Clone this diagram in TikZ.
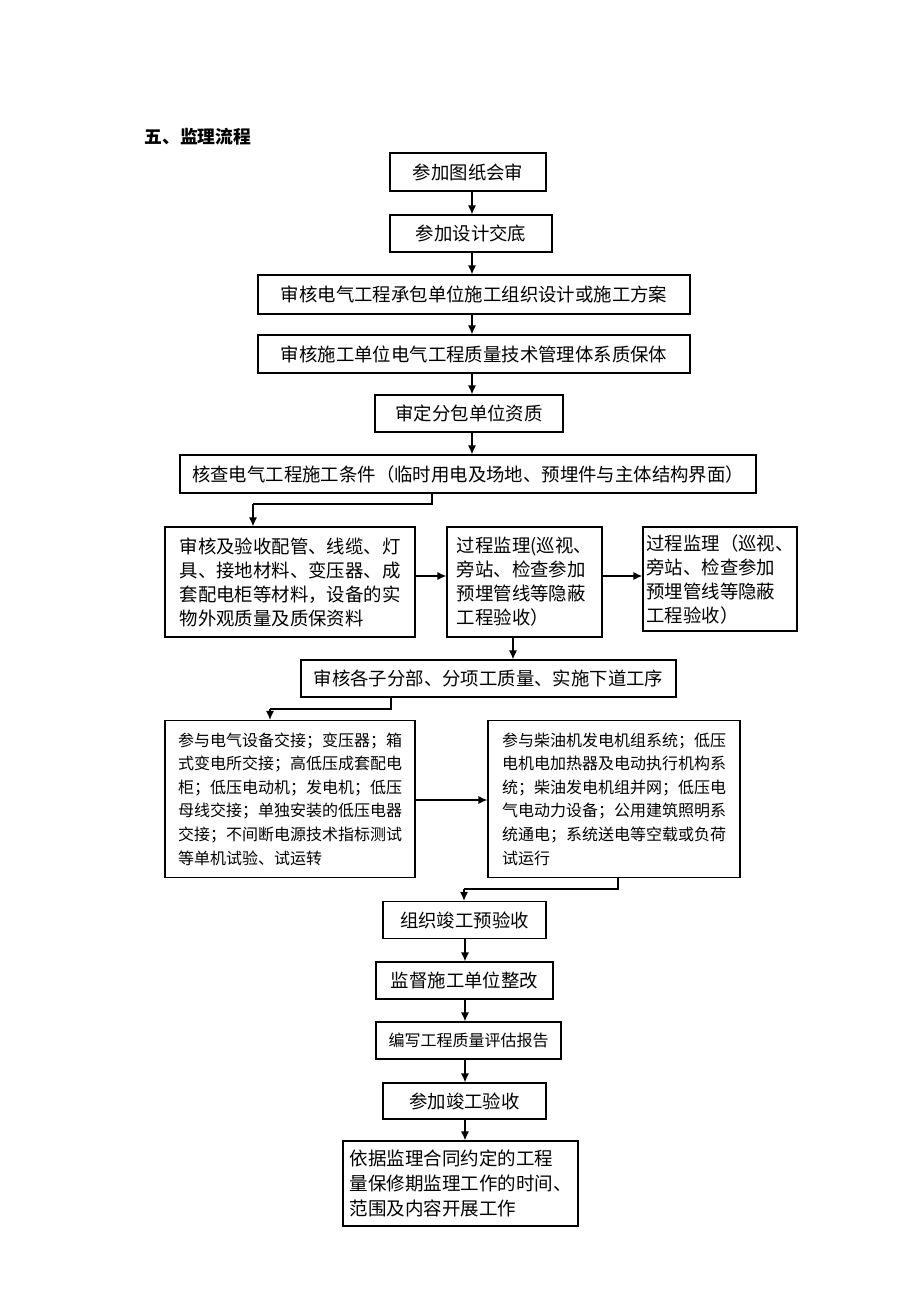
\documentclass[tikz,border=0pt]{standalone}
\usepackage{fontspec}
\setmainfont{Noto Sans CJK SC}
\usetikzlibrary{arrows.meta}
\begin{document}
\begin{tikzpicture}[x=1pt,y=-1pt,
  box/.style={draw,line width=1.2pt,inner sep=0pt,align=left,
     font=\fontsize{18.4}{24}\selectfont},
  sbox/.style={box,font=\fontsize{16}{23.6}\selectfont},
  arr/.style={line width=1.2pt,-{Latex[length=9pt,width=8pt]}},
  ln/.style={line width=1.2pt}]
\useasboundingbox (0,0) rectangle (920,1302);
\node[anchor=west,font=\fontsize{17.8}{20}\selectfont\bfseries] (title) at (141,137) {五、监理流程};
\node[box,minimum width=156,minimum height=38] (n1) at (468,172) {参加图纸会审};
\node[box,minimum width=162,minimum height=37] (n2) at (471,233.5) {参加设计交底};
\node[box,minimum width=432,minimum height=39] (n3) at (474,294.5) {审核电气工程承包单位施工组织设计或施工方案};
\node[box,minimum width=432,minimum height=38] (n4) at (474,354) {审核施工单位电气工程质量技术管理体系质保体};
\node[box,minimum width=188,minimum height=37] (n5) at (469,413.5) {审定分包单位资质};
\node[box,minimum width=576,minimum height=38] (n6) at (468,474) {核查电气工程施工条件（临时用电及场地、预埋件与主体结构界面）};
\node[box,minimum width=250,minimum height=110] (n7) at (290,582) {审核及验收配管、线缆、灯\\具、接地材料、变压器、成\\套配电柜等材料，设备的实\\物外观质量及质保资料};
\node[box,minimum width=155,minimum height=110] (n8) at (524.5,582) {过程监理(巡视、\\旁站、检查参加\\预埋管线等隐蔽\\工程验收）};
\node[box,minimum width=154,minimum height=104] (n9) at (720,579) {过程监理（巡视、\\旁站、检查参加\\预埋管线等隐蔽\\工程验收）};
\node[box,minimum width=375,minimum height=37] (n10) at (488.5,678.5) {审核各子分部、分项工质量、实施下道工序};
\node[sbox,minimum width=250,minimum height=157] (n11) at (290,799) {参与电气设备交接；变压器；箱\\式变电所交接；高低压成套配电\\柜；低压电动机；发电机；低压\\母线交接；单独安装的低压电器\\交接；不间断电源技术指标测试\\等单机试验、试运转};
\node[sbox,minimum width=252,minimum height=157] (n12) at (614,799) {参与柴油机发电机组系统；低压\\电机电加热器及电动执行机构系\\统；柴油发电机组并网；低压电\\气电动力设备；公用建筑照明系\\统通电；系统送电等空载或负荷\\试运行};
\node[box,minimum width=163,minimum height=37] (n13) at (464.5,920) {组织竣工预验收};
\node[box,minimum width=177,minimum height=37] (n14) at (464.5,980.5) {监督施工单位整改};
\node[sbox,minimum width=185,minimum height=37] (n15) at (468.5,1040.5) {编写工程质量评估报告};
\node[box,minimum width=163,minimum height=36] (n16) at (464.5,1101) {参加竣工验收};
\node[box,minimum width=235,minimum height=85,font=\fontsize{18.5}{25}\selectfont] (n17) at (460.5,1183.5) {依据监理合同约定的工程\\量保修期监理工作的时间、\\范围及内容开展工作};
% axes
\coordinate (ax1) at (472,0);
\coordinate (ax2) at (465,0);
\draw[arr] (n1.south -| ax1) -- (n2.north -| ax1);
\draw[arr] (n2.south -| ax1) -- (n3.north -| ax1);
\draw[arr] (n3.south -| ax1) -- (n4.north -| ax1);
\draw[arr] (n4.south -| ax1) -- (n5.north -| ax1);
\draw[arr] (n5.south -| ax1) -- (n6.north -| ax1);
% n6 -> n7
\coordinate (c1) at (432,504);
\coordinate (c2) at (253,504);
\draw[ln] (n6.south -| c1) -- (c1) -- (c2);
\draw[arr] (c2) -- (c2 |- n7.north);
% row
\coordinate (r1) at (0,576);
\draw[arr] (n7.east |- r1) -- (n8.west |- r1);
\draw[arr] (n8.east |- r1) -- (n9.west |- r1);
% n8 -> n10
\coordinate (c3) at (513,0);
\draw[arr] (n8.south -| c3) -- (n10.north -| c3);
% n10 -> n11
\coordinate (c4) at (391,709);
\coordinate (c5) at (270,709);
\draw[ln] (n10.south -| c4) -- (c4) -- (c5);
\draw[arr] (c5) -- (c5 |- n11.north);
% n11 -> n12
\coordinate (r2) at (0,800);
\draw[arr] (n11.east |- r2) -- (n12.west |- r2);
% n12 -> n13
\coordinate (c6) at (618,889);
\coordinate (c7) at (464,889);
\draw[ln] (n12.south -| c6) -- (c6) -- (c7);
\draw[arr] (c7) -- (c7 |- n13.north);
\draw[arr] (n13.south -| ax2) -- (n14.north -| ax2);
\draw[arr] (n14.south -| ax2) -- (n15.north -| ax2);
\draw[arr] (n15.south -| ax2) -- (n16.north -| ax2);
\draw[arr] (n16.south -| ax2) -- (n17.north -| ax2);
\end{tikzpicture}
\end{document}
